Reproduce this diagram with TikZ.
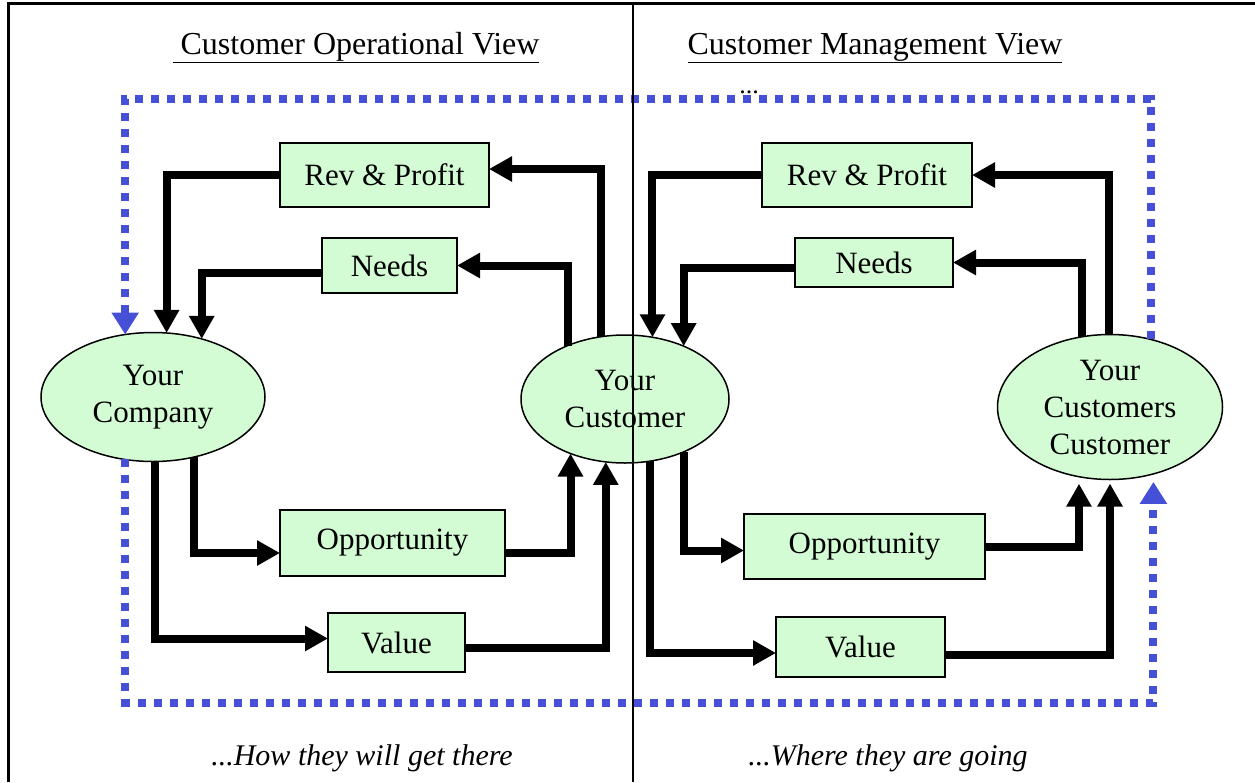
\documentclass[tikz,border=0pt]{standalone}
\usepackage{fontspec}
\setmainfont{Liberation Serif}
\usepackage{tikz}
\usetikzlibrary{arrows.meta, shapes.geometric}
\definecolor{blobgreen}{RGB}{212,252,212}
\definecolor{loopblue}{RGB}{70,80,215}
\tikzset{
	blob/.style={ellipse, draw, line width=1.5pt, fill=blobgreen, inner sep=0pt, outer sep=0pt, align=center, font=\fontsize{31}{37}\selectfont},
	tile/.style={rectangle, draw, line width=1.5pt, fill=blobgreen, inner sep=0pt, outer sep=0pt, font=\fontsize{31}{37}\selectfont},
	pipe/.style={line width=8pt, -{Triangle[length=23pt,width=24pt]}},
	feedback/.style={loopblue, line width=8pt, dash pattern=on 8pt off 8pt, -{Triangle[length=22pt,width=26pt]}}
}
\begin{document}
\begin{tikzpicture}[x=1pt, y=-1pt]
	\useasboundingbox (0,0) rectangle (1255,782);

		% titles %
		\node[anchor=base, font=\fontsize{32}{38}\selectfont] (opview) at (356,54) {\underline{\ Customer Operational View}};
		\node[anchor=base, font=\fontsize{32}{38}\selectfont] (mgview) at (875,54) {\underline{Customer Management View}};
		\node[anchor=base, font=\fontsize{26}{30}\selectfont] (dots) at (749,93) {...};
		\node[anchor=base, font=\fontsize{30}{36}\selectfont\itshape] (howtext) at (362,765) {...How they will get there};
		\node[anchor=base, font=\fontsize{30}{36}\selectfont\itshape] (wheretext) at (888,765) {...Where they are going};

		% nodes - left-hand view %
		\node[blob, minimum width=224pt, minimum height=129pt] (company) at (153,397) {Your\\Company};
		\node[blob, minimum width=208pt, minimum height=128pt] (cust) at (625,399) {Your\\Customer};
		\node[tile, minimum width=209pt, minimum height=64pt] (revL) at (384.5,175) {Rev \& Profit};
		\node[tile, minimum width=135pt, minimum height=55pt] (needsL) at (389.5,265.5) {Needs};
		\node[tile, minimum width=225pt, minimum height=66pt] (oppL) at (392.5,543) {Opportunity};
		\node[tile, minimum width=137pt, minimum height=59pt] (valL) at (396.5,642.5) {Value};

		% nodes - right-hand view %
		\node[blob, minimum width=225pt, minimum height=145pt] (custcust) at (1110,407) {Your\\Customers\\Customer};
		\node[tile, minimum width=210pt, minimum height=64pt] (revR) at (867,175) {Rev \& Profit};
		\node[tile, minimum width=158pt, minimum height=49pt] (needsR) at (874,262.5) {Needs};
		\node[tile, minimum width=241pt, minimum height=65pt] (oppR) at (864.5,546.5) {Opportunity};
		\node[tile, minimum width=169pt, minimum height=60pt] (valR) at (860.5,647) {Value};

		% edges - left %
		\draw[pipe] (revL.west) -| (company.78.4);
		\draw[pipe] ([yshift=-7pt]needsL.west) -| (company.50.3);
		\draw[pipe] (cust.111.9) |- ([yshift=6pt]revL.east);
		\draw[pipe] (cust.137.5) |- (needsL.east);
		\draw[pipe] (company.-56.2) |- ([yshift=-10pt]oppL.west);
		\draw[pipe] (company.-88) |- ([yshift=4pt]valL.west);
		\draw[pipe] ([yshift=-10pt]oppL.east) -| (cust.-135.4);
		\draw[pipe] ([yshift=-5pt]valL.east) -| (cust.-107.7);

		% edges - right %
		\draw[pipe] (revR.west) -| (cust.66.4);
		\draw[pipe] ([yshift=-5pt]needsR.west) -| (cust.42.5);
		\draw[pipe] (custcust.91) |- (revR.east);
		\draw[pipe] (custcust.112.6) |- (needsR.east);
		\draw[pipe] (cust.-42.5) |- ([yshift=-4pt]oppR.west);
		\draw[pipe] (cust.-68.9) |- ([yshift=-6pt]valR.west);
		\draw[pipe, shorten >=7pt] (oppR.east) -| (custcust.-114.7);
		\draw[pipe, shorten >=4pt] ([yshift=-8pt]valR.east) -| (custcust.-90.5);

		% dotted loop %
		\coordinate (toprow) at (0,99);
		\coordinate (botrow) at (0,702.5);
		\draw[feedback] (custcust.59.5) |- (toprow -| company.114.3) -- (company.114.3);
		\draw[feedback, shorten >=8pt] (company.-114.3) |- (botrow -| custcust.-57.3) -- (custcust.-57.3);

		% frame %
		\draw[line width=3pt] (8,782) -- (8,3) -- (1255,3);
		\draw[line width=2pt] (633,3) -- (633,782);

\end{tikzpicture}
\end{document}
